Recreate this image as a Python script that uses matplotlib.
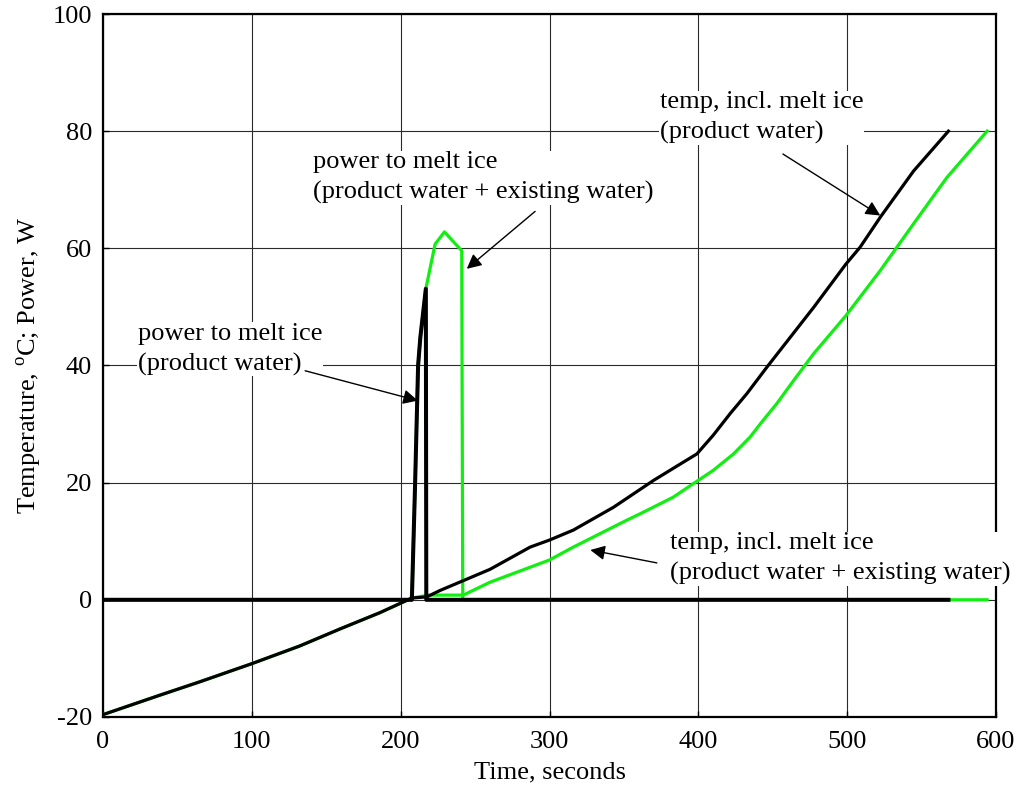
import numpy as np
import matplotlib.pyplot as plt

plt.rcParams['font.family'] = ['Liberation Serif', 'DejaVu Serif']
plt.rcParams['mathtext.fontset'] = 'custom'
plt.rcParams['mathtext.rm'] = 'Liberation Serif'
plt.rcParams['axes.unicode_minus'] = False
plt.rcParams['font.size'] = 19

# shared cooling part (both temps identical until melting starts)
t_cool = [0, 38, 65, 100, 132, 159, 186, 207.5]
temp_cool = [-19.6, -16.3, -14.0, -10.9, -7.9, -5.0, -2.2, 0.3]

# temperature, incl. melt ice (product water)
t_temp_pw = t_cool + [217.5, 226.5, 260, 287, 300, 316, 343, 370, 388, 399, 410,
                      421.4, 432.6, 446, 461.7, 477.4, 499.1, 508.7, 522.2, 544.6, 568]
temp_pw = temp_cool + [0.5, 1.6, 5.2, 9.0, 10.2, 11.9, 15.8, 20.4, 23.2, 24.9, 28.1,
                       31.8, 35.2, 39.7, 44.8, 49.9, 57.3, 60.2, 65.3, 73.2, 80.0]

# temperature, incl. melt ice (product water + existing water)
t_temp_ew = t_cool + [219, 242, 260, 300, 316, 352, 361, 383, 400, 410, 423.6,
                      434.8, 441.5, 452.7, 463.9, 477.4, 499.1, 522.2, 544.6, 567, 594]
temp_ew = temp_cool + [0.8, 0.8, 3.0, 6.8, 9.0, 13.6, 14.7, 17.5, 20.4, 22.1, 24.9,
                       27.8, 30.0, 33.5, 37.4, 42.0, 48.5, 56.2, 64.2, 72.1, 80.0]

# power to melt ice (product water)
t_pow_pw = [0, 207.5, 209.7, 211.7, 213.2, 216.9, 217.2, 568]
pow_pw = [0, 0, 20, 40, 44.8, 53.1, 0, 0]

# power to melt ice (product water + existing water)
t_pow_ew = [0, 207.5, 209.7, 211.7, 213.2, 216.9, 223.1, 229.4, 241, 241.7, 594]
pow_ew = [0, 0, 20, 40, 44.8, 53.1, 60.7, 62.8, 59.6, 0, 0]

green = '#11ee11'
lw = 2.3

fig = plt.figure(figsize=(10.24, 7.91), dpi=100)
ax = fig.add_axes([0.1006, 0.0936, 0.8721, 0.8887])

ax.plot(t_temp_ew, temp_ew, '-', color=green, lw=lw, zorder=3)
ax.plot(t_pow_ew, pow_ew, '-', color=green, lw=lw, zorder=3)
ax.plot(t_temp_pw, temp_pw, '-', color='k', lw=lw, zorder=4)
ax.plot(t_pow_pw, pow_pw, '-', color='k', lw=lw + 0.6, zorder=4)

ax.set_xlim(0, 600)
ax.set_ylim(-20, 100)
ax.set_xticks(np.arange(0, 601, 100))
ax.set_yticks(np.arange(-20, 101, 20))
ax.grid(True, color='#2a2a2a', lw=0.8)
ax.set_axisbelow(True)
ax.tick_params(direction='in', length=4, width=1, labelsize=19)
ax.tick_params(axis='x', pad=10)
ax.tick_params(axis='y', pad=8)
for s in ax.spines.values():
    s.set_linewidth(1.6)

ax.set_xlabel('Time, seconds', fontsize=19, labelpad=6)
ax.set_ylabel(r'Temperature, $^{\mathrm{o}}$C; Power, W', fontsize=19, labelpad=6)

box = dict(facecolor='white', edgecolor='none', pad=0.5)
arrow = dict(arrowstyle='-|>', color='k', lw=1.0, mutation_scale=22, shrinkA=0, shrinkB=0)

ax.text(23.5, 42.8, 'power to melt ice\n(product water)',
        ha='left', va='center', linespacing=1.45, bbox=box, zorder=6)
ax.annotate('', xy=(211.5, 34.0), xytext=(135.8, 39.1), arrowprops=arrow, zorder=6)

ax.text(141.3, 72.1, 'power to melt ice\n(product water + existing water)',
        ha='left', va='center', linespacing=1.45, bbox=box, zorder=6)
ax.annotate('', xy=(244.4, 56.5), xytext=(290.3, 66.3), arrowprops=arrow, zorder=6)

ax.text(373.9, 82.3, 'temp, incl. melt ice\n(product water)',
        ha='left', va='center', linespacing=1.45, bbox=box, zorder=6)
ax.annotate('', xy=(522.2, 65.6), xytext=(456.8, 76.1), arrowprops=arrow, zorder=6)

ax.text(381.0, 7.0, 'temp, incl. melt ice\n(product water + existing water)',
        ha='left', va='center', linespacing=1.45, bbox=box, zorder=6, clip_on=False)
ax.annotate('', xy=(327.4, 8.5), xytext=(372.1, 6.3), arrowprops=arrow, zorder=6)

plt.savefig('out.png', dpi=100)
plt.close()
